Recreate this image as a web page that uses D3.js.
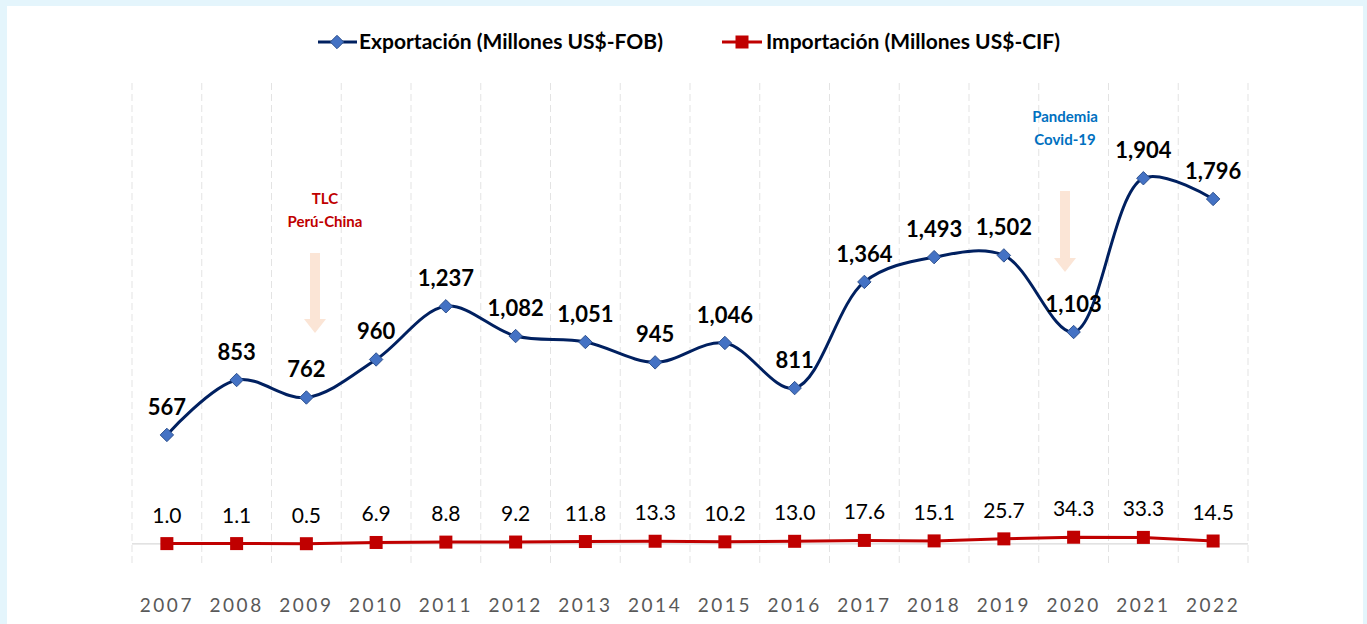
<!DOCTYPE html>
<html>
<head>
<meta charset="utf-8">
<script src="https://cdn.jsdelivr.net/npm/d3@7"></script>
<style>
  body { margin: 0; background: #e4f5fc; }
  svg { display: block; font-family: Lato, "Open Sans", sans-serif; }
</style>
</head>
<body>
<svg id="chart" width="1367" height="624"></svg>
<script>
// datos de la gráfica
var years = ["2007", "2008", "2009", "2010", "2011", "2012", "2013", "2014", "2015", "2016", "2017", "2018", "2019", "2020", "2021", "2022"];
var exportacion = [567, 853, 762, 960, 1237, 1082, 1051, 945, 1046, 811, 1364, 1493, 1502, 1103, 1904, 1796];
var importacion = [1.0, 1.1, 0.5, 6.9, 8.8, 9.2, 11.8, 13.3, 10.2, 13.0, 17.6, 15.1, 25.7, 34.3, 33.3, 14.5];
var seriesNames = ["Exportación (Millones US$-FOB)", "Importación (Millones US$-CIF)"];

var svg = d3.select("#chart");

// fondo blanco
svg.append("rect").attr("x", 7).attr("y", 6).attr("width", 1356).attr("height", 630).attr("fill", "#fff");

var x = d3.scaleBand().domain(years).range([132, 1248]).padding(0);
var y = d3.scaleLinear().domain([-100, 2400]).range([563, 83]);
var cx = function (d) { return x(d) + x.bandwidth() / 2; };

// líneas verticales punteadas
var bounds = years.map(function (d) { return x(d); }).concat([x.range()[1]]);
svg.append("g").selectAll("line").data(bounds).enter().append("line")
  .attr("x1", function (d) { return d; }).attr("x2", function (d) { return d; })
  .attr("y1", y(2400)).attr("y2", y(-100))
  .attr("stroke", "#e3e3e3").attr("stroke-width", 1).attr("stroke-dasharray", "7,4");

// línea de cero
svg.append("line").attr("x1", 132).attr("x2", 1248).attr("y1", y(0)).attr("y2", y(0))
  .attr("stroke", "#d9d9d9").attr("stroke-width", 1.2);

// eje x
var xAxis = svg.append("g").attr("transform", "translate(0,605)")
  .call(d3.axisBottom(x).tickSize(0).tickPadding(0));
xAxis.select(".domain").remove();
xAxis.selectAll("text").attr("font-size", 19).attr("fill", "#595959")
  .attr("letter-spacing", "2.5px").attr("dy", "0.35em").attr("font-family", "Lato, sans-serif");

// flechas de anotación
function arrow(xc, y0, y1) {
  svg.append("path")
    .attr("d", "M" + (xc - 5) + "," + y0 + "V" + (y1 - 14) + "H" + (xc - 11) + "L" + xc + "," + y1 +
      "L" + (xc + 11) + "," + (y1 - 14) + "H" + (xc + 5) + "V" + y0 + "Z")
    .attr("fill", "#fbe5d6");
}
arrow(315, 253, 333);
arrow(1065, 191, 272);

var ann = svg.append("g").attr("font-weight", "bold").attr("font-size", 15).attr("text-anchor", "middle");
ann.append("text").attr("x", 325).attr("y", 204).attr("fill", "#c00000").text("TLC");
ann.append("text").attr("x", 325).attr("y", 227).attr("fill", "#c00000").text("Perú-China");
ann.append("text").attr("x", 1065).attr("y", 122).attr("fill", "#0070c0").text("Pandemia");
ann.append("text").attr("x", 1065).attr("y", 145).attr("fill", "#0070c0").text("Covid-19");

// serie de importación
var impLine = d3.line().x(function (d, i) { return cx(years[i]); }).y(function (d) { return y(d); });
svg.append("path").datum(importacion).attr("d", impLine)
  .attr("fill", "none").attr("stroke", "#c00000").attr("stroke-width", 3);
svg.append("g").selectAll("rect").data(importacion).enter().append("rect")
  .attr("x", function (d, i) { return cx(years[i]) - 6.5; })
  .attr("y", function (d) { return y(d) - 6.5; })
  .attr("width", 13).attr("height", 13).attr("fill", "#c00000");
svg.append("g").selectAll("text").data(importacion).enter().append("text")
  .attr("x", function (d, i) { return cx(years[i]); })
  .attr("y", function (d) { return y(d) - 21; })
  .attr("text-anchor", "middle").attr("font-size", 21).attr("fill", "#000")
  .text(function (d) { return d.toFixed(1); });

// serie de exportación
var expLine = d3.line().x(function (d, i) { return cx(years[i]); }).y(function (d) { return y(d); })
  .curve(d3.curveCatmullRom.alpha(0.5));
svg.append("path").datum(exportacion).attr("d", expLine)
  .attr("fill", "none").attr("stroke", "#002060").attr("stroke-width", 3);
var diamond = d3.symbol().type(d3.symbolDiamond2).size(115);
svg.append("g").selectAll("path").data(exportacion).enter().append("path")
  .attr("d", diamond)
  .attr("transform", function (d, i) { return "translate(" + cx(years[i]) + "," + y(d) + ")"; })
  .attr("fill", "#4472c4").attr("stroke", "#2f528f").attr("stroke-width", 1);
svg.append("g").selectAll("text").data(exportacion).enter().append("text")
  .attr("x", function (d, i) { return cx(years[i]); })
  .attr("y", function (d) { return y(d) - 20; })
  .attr("text-anchor", "middle").attr("font-size", 22).attr("font-weight", "bold").attr("fill", "#000")
  .text(function (d) { return d3.format(",")(d); });

// leyenda
var leg = svg.append("g").attr("font-size", 21).attr("font-weight", "bold");
leg.append("line").attr("x1", 318).attr("x2", 357).attr("y1", 42).attr("y2", 42)
  .attr("stroke", "#002060").attr("stroke-width", 3);
leg.append("path").attr("d", diamond).attr("transform", "translate(337,42)")
  .attr("fill", "#4472c4").attr("stroke", "#2f528f");
leg.append("text").attr("x", 359).attr("y", 42).attr("dy", "0.35em").attr("fill", "#000").text(seriesNames[0]);
leg.append("line").attr("x1", 722).attr("x2", 762).attr("y1", 42).attr("y2", 42)
  .attr("stroke", "#c00000").attr("stroke-width", 3);
leg.append("rect").attr("x", 735.5).attr("y", 35.5).attr("width", 13).attr("height", 13).attr("fill", "#c00000");
leg.append("text").attr("x", 766).attr("y", 42).attr("dy", "0.35em").attr("fill", "#000").text(seriesNames[1]);
</script>
</body>
</html>
